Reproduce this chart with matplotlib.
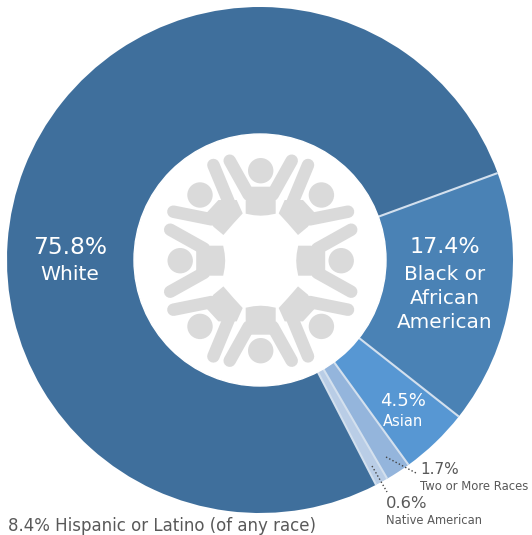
import numpy as np
import matplotlib
matplotlib.use('Agg')
import matplotlib.pyplot as plt
from matplotlib.patches import Circle, Polygon
from matplotlib.transforms import Affine2D

plt.rcParams['font.family'] = ['DejaVu Sans']

# shares are measured from the arcs in the picture, labels are what it prints
groups = ['White', 'Black or African American', 'Asian', 'Two or More Races', 'Native American']
arc_shares = [77.0, 16.2, 4.4, 1.6, 0.8]
percent_labels = ['75.8%', '17.4%', '4.5%', '1.7%', '0.6%']
colors = ['#3F6F9C', '#4A82B5', '#5797D3', '#94B5DC', '#B9CDE6']
hispanic_label = '8.4% Hispanic or Latino (of any race)'

W, H = 532, 535
CX, CY = 260, H - 260
R_OUT, R_IN = 253, 126
START = -62.7
GREY = '#595959'


def y(px):
    return H - px


fig = plt.figure(figsize=(W / 100, H / 100), dpi=100)
ax = fig.add_axes([0, 0, 1, 1])

ax.pie(arc_shares, colors=colors, startangle=START, counterclock=False, center=(CX, CY), radius=R_OUT,
       wedgeprops={'width': R_OUT - R_IN + 1, 'edgecolor': 'none'}, frame=True)
ax.set_xlim(0, W)
ax.set_ylim(0, H)
ax.axis('off')
ax.set_aspect('equal')

# pale separators between the slices
angle = START
for share in arc_shares:
    angle -= share * 3.6
    c, s = np.cos(np.radians(angle)), np.sin(np.radians(angle))
    ax.plot([CX + R_IN * c, CX + R_OUT * c], [CY + R_IN * s, CY + R_OUT * s], color='#D3E0EE', lw=1.5,
            solid_capstyle='butt', zorder=2)

# white hub with the ring of people
ax.add_patch(Circle((CX, CY), R_IN, fc='white', ec='white', lw=1, zorder=3))
icon = '#DADADA'
ICX, ICY = 260.7, H - 260.7


def draw_person(tr, torso, head, arms):
    ax.add_patch(Polygon(torso, closed=True, fc=icon, ec='none', transform=tr, zorder=4))
    ax.add_patch(Circle(head, 12.7, fc=icon, ec='none', transform=tr, zorder=4))
    for (x0, y0), (x1, y1) in arms:
        ax.plot([x0, x1], [y0, y1], color=icon, lw=9, solid_capstyle='round', transform=tr, zorder=4)


# upright figures: top, bottom, and the two side ones sit a little closer in
upright_torso = [(-15, 47), (-15, 60), (-9.5, 74), (10, 74), (15, 60), (15, 47), (7, 45.5), (0, 45), (-7, 45.5)]
upright_arms = [((-12, 66), (-31, 100)), ((12, 66), (31, 100))]
for rot, shift in [(0, 0), (90, -9.5), (180, 0), (270, -9.5)]:
    tr = Affine2D().translate(0, shift).rotate_deg(rot).translate(ICX, ICY) + ax.transData
    draw_person(tr, upright_torso, (0, 90), upright_arms)

# diagonal figures are not plain rotations of the upright one, traced from the upper left one
diag_torso = [(-54, 48), (-42.3, 60.7), (-24, 60.7), (-18, 47.3), (-27, 37.5), (-37.3, 25.7), (-47.3, 34)]
diag_arms = [((-47.3, 95.7), (-30.7, 55.7)), ((-87.3, 49), (-49, 41.3))]
for sx, sy in [(1, 1), (-1, 1), (1, -1), (-1, -1)]:
    tr = Affine2D().scale(sx, sy).translate(ICX, ICY) + ax.transData
    draw_person(tr, diag_torso, (-60.7, 65.7), diag_arms)

# leader lines
ax.plot([386, 416], [y(457), y(473)], color='#444444', lw=1, ls=(0, (1, 1.6)), zorder=5)
ax.plot([372, 387], [y(466), y(492)], color='#444444', lw=1, ls=(0, (1, 1.6)), zorder=5)

# labels
ax.text(70, y(247), percent_labels[0], color='white', fontsize=16.8, ha='center', va='center', zorder=6)
ax.text(70, y(274), groups[0], color='white', fontsize=14.6, ha='center', va='center', zorder=6)
ax.text(445, y(247), percent_labels[1], color='white', fontsize=16, ha='center', va='center', zorder=6)
for txt, py in zip(['Black or', 'African', 'American'], [274, 299, 323]):
    ax.text(445, y(py), txt, color='white', fontsize=14.4, ha='center', va='center', zorder=6)
ax.text(403, y(401), percent_labels[2], color='white', fontsize=13, ha='center', va='center', zorder=6)
ax.text(403, y(421), groups[2], color='white', fontsize=10.5, ha='center', va='center', zorder=6)
ax.text(420, y(469), percent_labels[3], color=GREY, fontsize=11, ha='left', va='center', zorder=6)
ax.text(420, y(486), groups[3], color=GREY, fontsize=8.4, ha='left', va='center', zorder=6)
ax.text(386, y(503), percent_labels[4], color=GREY, fontsize=11.8, ha='left', va='center', zorder=6)
ax.text(386, y(520), groups[4], color=GREY, fontsize=8.3, ha='left', va='center', zorder=6)
ax.text(8, y(526), hispanic_label, color=GREY, fontsize=12, ha='left', va='center', zorder=6)

fig.savefig('out.png', dpi=100)
